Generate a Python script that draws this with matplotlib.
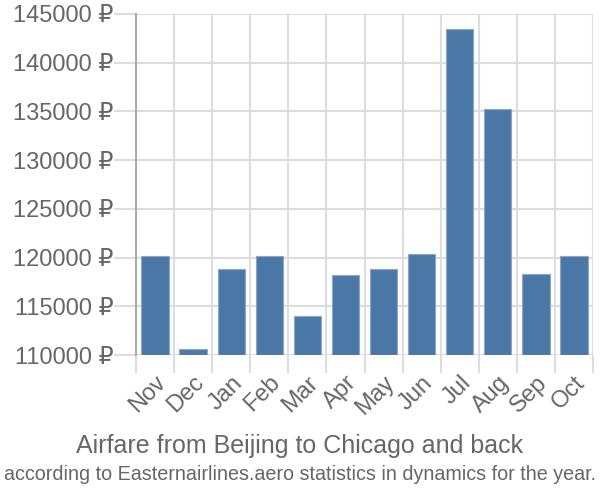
import numpy as np
import matplotlib.pyplot as plt

months = ["Nov", "Dec", "Jan", "Feb", "Mar", "Apr", "May", "Jun", "Jul", "Aug", "Sep", "Oct"]
prices = [120200, 110600, 118800, 120200, 114050, 118250, 118800, 120400, 143500, 135300, 118350, 120200]
yticks = [110000, 115000, 120000, 125000, 130000, 135000, 140000, 145000]

plt.rcParams["font.family"] = ["Liberation Sans", "DejaVu Sans"]
text_col = "#666666"
grid_col = "#dddddd"

fig = plt.figure(figsize=(6, 5), dpi=100)
ax = fig.add_axes([0.2267, 0.29, 0.7616, 0.682])

x = np.arange(len(months))
base = yticks[0]
ax.bar(x, [p - base for p in prices], bottom=base, width=0.72,
       color="#4c78a8", edgecolor="#8aa6c8", linewidth=0.8, zorder=3)

ax.set_xlim(-0.5, len(months) - 0.5)
ax.set_ylim(yticks[0], yticks[-1])

ax.set_yticks(yticks)
ax.set_yticklabels([f"{v} ₽" for v in yticks])
ax.set_xticks(x)
ax.set_xticklabels(months, rotation=45, ha="right", va="top", rotation_mode="anchor")
ax.set_xticks(np.arange(-0.5, len(months)), minor=True)

ax.tick_params(axis="y", which="major", length=16, color=grid_col, width=1.5,
               labelsize=17, labelcolor=text_col, pad=0)
ax.tick_params(axis="x", which="major", length=0, labelsize=17, labelcolor=text_col, pad=12)
ax.tick_params(axis="x", which="minor", length=13, color=grid_col, width=1.5)

ax.grid(True, axis="y", color=grid_col, linewidth=1.5, zorder=0)
ax.grid(True, axis="x", which="minor", color=grid_col, linewidth=1.5, zorder=0)

for side in ["top", "right", "bottom"]:
    ax.spines[side].set_visible(False)
ax.spines["left"].set_color("#aaaaaa")
ax.spines["left"].set_linewidth(1.5)
ax.spines["left"].set_bounds(yticks[0], yticks[-1])

fig.text(0.5, 0.108, "Airfare from Beijing to Chicago and back", ha="center", va="center",
         fontsize=18, color=text_col)
fig.text(0.5, 0.05, "according to Easternairlines.aero statistics in dynamics for the year.",
         ha="center", va="center", fontsize=14.2, color=text_col)

fig.savefig("out.png", dpi=100)
